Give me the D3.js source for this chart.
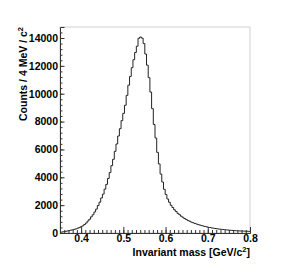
<!DOCTYPE html>
<html>
  <head>
    <meta charset="utf-8">
    <title>Invariant mass</title>
    <script type="text/javascript" src="https://d3js.org/d3.v7.min.js"></script>
    <style>
      html, body { margin: 0; background: #fff; }
      text { font-family: "Liberation Sans", Arial, sans-serif; font-weight: bold; }
    </style>
  </head>
  <body>
    <script>

    // histogram: 4 MeV bins from 0.35 to 0.80 GeV/c^2
    var massRange = [0.35, 0.8];
    var counts = [
      55, 78, 96, 122, 148, 171, 204, 226, 263, 296,
      344, 386, 455, 516, 612, 715, 856, 984, 1160, 1312,
      1508, 1715, 1972, 2210, 2515, 2790, 3150, 3490, 3915, 4340,
      4835, 5290, 5860, 6390, 6965, 7490, 8070, 8590, 9170, 9880,
      10610, 11240, 11870, 12440, 12960, 13410, 13980, 14070, 13990, 13600,
      12850, 12050, 11150, 10120, 8930, 7790, 6820, 5790, 4960, 4230,
      3660, 3140, 2760, 2440, 2210, 1990, 1830, 1665, 1545, 1410,
      1315, 1205, 1125, 1035, 970, 895, 845, 780, 740, 686,
      648, 601, 573, 531, 503, 468, 443, 412, 392, 362,
      348, 322, 307, 287, 277, 258, 247, 228, 220, 204,
      198, 184, 179, 166, 162, 151, 148, 138, 136, 126,
      124, 117
    ];
    var xTicks = [0.4, 0.5, 0.6, 0.7, 0.8];
    var yTicks = [0, 2000, 4000, 6000, 8000, 10000, 12000, 14000];
    var yMax = 14790;

    var W = 286, H = 278;
    var fl = 60, fr = 250, ft = 27, fb = 233;   // frame edges

    var svg = d3.select("body").append("svg")
                .attr("width", W).attr("height", H);

    var x = d3.scaleLinear().domain(massRange).range([fl, fr]);
    var y = d3.scaleLinear().domain([0, yMax]).range([fb, ft]);

    // frame
    svg.append("rect")
       .attr("x", fl).attr("y", ft)
       .attr("width", fr - fl).attr("height", fb - ft)
       .attr("fill", "none").attr("stroke", "#cfcfcf").attr("stroke-width", 1);

    // histogram outline
    var bw = (massRange[1] - massRange[0]) / counts.length;
    var pts = counts.map(function(c, i) { return [massRange[0] + i * bw, c]; });
    pts.push([massRange[1], counts[counts.length - 1]]);

    var line = d3.line()
                 .x(function(d) { return x(d[0]); })
                 .y(function(d) { return y(d[1]); })
                 .curve(d3.curveStepAfter);

    svg.append("path")
       .datum(pts)
       .attr("d", line)
       .attr("fill", "none")
       .attr("stroke", "#222")
       .attr("stroke-width", 1);

    // minor ticks
    var xMinor = d3.range(36, 80).map(function(v) { return v / 100; });
    var yMinor = d3.range(0, 14800, 400);

    svg.append("g")
       .attr("transform", "translate(0," + fb + ")")
       .call(d3.axisBottom(x).tickValues(xMinor).tickSize(-3).tickFormat(""))
       .call(function(g) { g.select(".domain").remove(); g.selectAll("line").attr("stroke", "#333"); });

    svg.append("g")
       .attr("transform", "translate(" + fl + ",0)")
       .call(d3.axisLeft(y).tickValues(yMinor).tickSize(-2.5).tickFormat(""))
       .call(function(g) { g.select(".domain").remove(); g.selectAll("line").attr("stroke", "#333"); });

    // major axes
    var xAxis = svg.append("g")
       .attr("transform", "translate(0," + fb + ")")
       .call(d3.axisBottom(x).tickValues(xTicks).tickSize(-6).tickFormat(d3.format(".1f")));
    xAxis.select(".domain").attr("stroke", "#333");
    xAxis.selectAll("line").attr("stroke", "#333");
    xAxis.selectAll("text").attr("font-size", "10.5px").attr("fill", "#000")
         .attr("y", 1.5).attr("dy", "0.71em");

    var yAxis = svg.append("g")
       .attr("transform", "translate(" + fl + ",0)")
       .call(d3.axisLeft(y).tickValues(yTicks).tickSize(-4.5).tickPadding(2).tickFormat(d3.format("d")));
    yAxis.select(".domain").attr("stroke", "#333");
    yAxis.selectAll("line").attr("stroke", "#333");
    yAxis.selectAll("text").attr("font-size", "10.5px").attr("fill", "#000");

    // titles
    var xt = svg.append("text")
       .attr("x", fr).attr("y", 256)
       .attr("text-anchor", "end").attr("font-size", "10.5px");
    xt.append("tspan").text("Invariant mass [GeV/c");
    xt.append("tspan").attr("font-size", "7.5px").attr("dy", -4).text("2");
    xt.append("tspan").attr("dy", 4).text("]");

    var yt = svg.append("text")
       .attr("transform", "translate(27," + ft + ") rotate(-90)")
       .attr("text-anchor", "end").attr("font-size", "10.5px");
    yt.append("tspan").text("Counts / 4 MeV / c");
    yt.append("tspan").attr("font-size", "7.5px").attr("dy", -4).text("2");

    </script>
  </body>
</html>
